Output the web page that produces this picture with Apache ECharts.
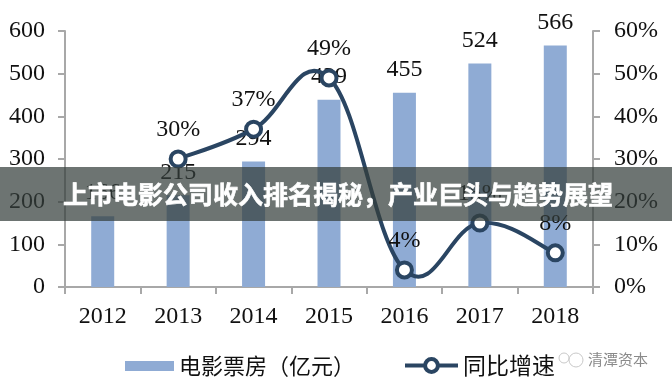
<!DOCTYPE html>
<html><head><meta charset="utf-8">
<style>html,body{margin:0;padding:0;background:#fff}#c{width:672px;height:389px}</style>
<script src="https://cdn.jsdelivr.net/npm/echarts@6/dist/echarts.min.js"></script>
</head><body><div id="c"></div>
<script>
const categories=['2012','2013','2014','2015','2016','2017','2018'];
const boxOffice=[166,215,294,439,455,524,566];
const growth=[null,30,37,49,4,15,8];
const barName='电影票房（亿元）';
const lineName='同比增速';
const overlayTitle='上市电影公司收入排名揭秘，产业巨头与趋势展望';
const watermark='清潭资本';
const serif='"Liberation Serif","DejaVu Serif",serif';
const cjk='"Noto Sans CJK SC",sans-serif';
const lineColor='#2a4562', barColor='#8fabd4', axisColor='#a8a8a8', textColor='#111';
const axisCommon={axisLine:{show:true,lineStyle:{color:axisColor,width:2}},axisTick:{show:true,length:7,lineStyle:{color:axisColor,width:2}},splitLine:{show:false},
  axisLabel:{color:textColor,fontFamily:serif,fontSize:24,margin:20,padding:[4,0,0,0]}};
function renderCurve(params,api){
  const i=params.dataIndex, pts=growth.map((v,k)=>v==null?null:api.coord([k,v]));
  if(!pts[i]||!pts[i+1])return null;
  const p1=pts[i],p2=pts[i+1],p0=pts[i-1]||p1,p3=pts[i+2]||p2,t=1/5;
  const c1=[p1[0]+(p2[0]-p0[0])*t,p1[1]+(p2[1]-p0[1])*t],c2=[p2[0]-(p3[0]-p1[0])*t,p2[1]-(p3[1]-p1[1])*t];
  return {type:'bezierCurve',shape:{x1:p1[0],y1:p1[1],x2:p2[0],y2:p2[1],cpx1:c1[0],cpy1:c1[1],cpx2:c2[0],cpy2:c2[1]},
    style:{stroke:lineColor,lineWidth:4,fill:null},silent:true};
}
const chart=echarts.init(document.getElementById('c'),null,{renderer:'canvas'});
chart.setOption({
  animation:false,
  grid:{left:65,right:79,top:31,bottom:102},
  legend:[
   {left:120,top:350,itemGap:0,itemWidth:49,itemHeight:10,
    textStyle:{fontFamily:cjk,fontSize:22,color:textColor,padding:[0,0,0,0]},
    data:[{name:barName,icon:'rect',itemStyle:{color:barColor}}]},
   {left:398,top:349,itemGap:0,itemWidth:53,itemHeight:16,
    textStyle:{fontFamily:cjk,fontSize:23,color:textColor,padding:[0,0,0,0]},
    data:[{name:lineName,itemStyle:{color:'#fff',borderColor:lineColor,borderWidth:4},lineStyle:{color:lineColor,width:4,opacity:1}}]}
  ],
  xAxis:{type:'category',data:categories,...axisCommon,axisLabel:{...axisCommon.axisLabel,margin:14}},
  yAxis:[
    {type:'value',min:0,max:600,interval:100,...axisCommon},
    {type:'value',min:0,max:60,interval:10,...axisCommon,axisLabel:{...axisCommon.axisLabel,margin:21,formatter:'{value}%'}}
  ],
  series:[
    {name:barName,type:'bar',data:boxOffice,barWidth:23,itemStyle:{color:barColor},
     label:{show:true,position:'top',distance:11,color:textColor,fontFamily:serif,fontSize:24}},
    {name:'curve',type:'custom',yAxisIndex:1,data:growth.map((v,i)=>[i,v==null?0:v]),renderItem:renderCurve,z:3,silent:true,tooltip:{show:false}},
    {name:lineName,type:'line',yAxisIndex:1,data:growth,z:4,symbol:'circle',symbolSize:15,showSymbol:true,
     lineStyle:{opacity:0},itemStyle:{color:'#fff',borderColor:lineColor,borderWidth:4},
     label:{show:true,position:'top',distance:8,formatter:'{c}%',color:textColor,fontFamily:serif,fontSize:24}}
  ],
  graphic:[
    {type:'rect',z:100,shape:{x:0,y:167,width:672,height:54},style:{fill:'rgba(52,62,60,0.72)'}},
    {type:'text',z:101,x:338,y:194,style:{text:overlayTitle,fill:'#fff',stroke:'#fff',lineWidth:0.6,font:'bold 25px "Noto Sans CJK SC",sans-serif',align:'center',verticalAlign:'middle'}},
    {type:'text',z:10,x:588,y:359,style:{text:watermark,fill:'#8a8a8a',font:'15px "Noto Sans CJK SC",sans-serif',align:'left',verticalAlign:'middle'}},
    {type:'circle',z:10,shape:{cx:576,cy:360,r:7},style:{fill:null,stroke:'#c8c8c8',lineWidth:1}},
    {type:'circle',z:10,shape:{cx:564,cy:358,r:5},style:{fill:null,stroke:'#c8c8c8',lineWidth:1}}
  ]
});
</script></body></html>
